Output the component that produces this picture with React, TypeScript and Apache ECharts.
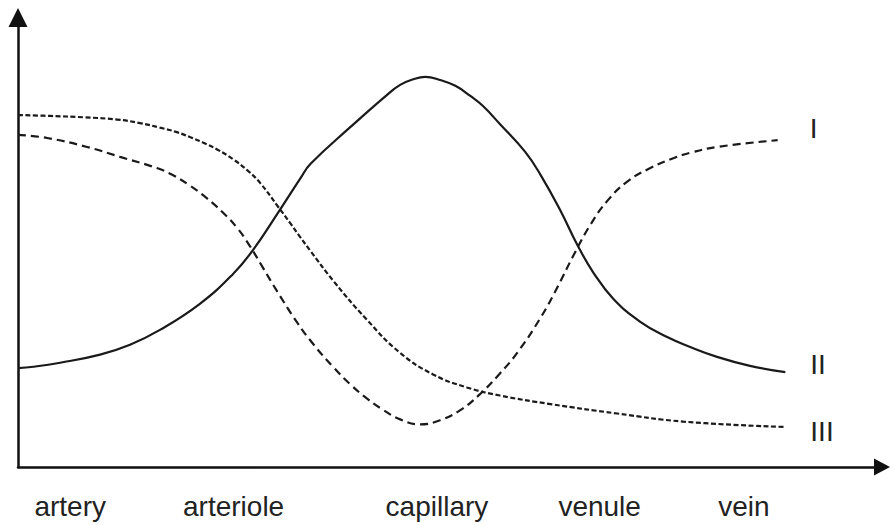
import React, { useEffect, useRef } from "react";
import * as echarts from "echarts";

// Vessel categories and where their labels sit along the x scale (0..100 = start..end of curves)
const categories = ["artery", "arteriole", "capillary", "venule", "vein"];
const categoryPositions = [6.8, 28.1, 54.6, 75.8, 94.6];

// Curve I (long dashes)
const seriesI: [number, number][] = [
  [0, 73.9], [3.8, 73.2], [9.0, 71.2], [13.3, 69.0], [18.1, 66.5], [20.1, 65.0],
  [22.4, 62.6], [24.6, 59.8], [26.7, 56.6], [28.6, 53.1], [30.2, 49.2], [31.9, 44.4],
  [33.8, 39.0], [36.4, 32.1], [38.5, 27.3], [41.1, 22.2], [43.3, 18.4], [45.5, 15.2],
  [47.6, 12.7], [49.8, 10.6], [52.4, 9.5], [55.0, 10.4], [57.6, 12.6], [60.2, 16.2],
  [62.8, 20.8], [65.1, 25.5], [68.1, 33.2], [70.3, 40.0], [72.4, 47.1], [74.6, 53.9],
  [76.8, 59.2], [79.4, 63.5], [82.4, 66.5], [85.4, 68.7], [87.6, 69.9], [91.1, 71.2],
  [99.0, 72.7],
];

// Curve II (solid)
const seriesII: [number, number][] = [
  [0, 22.0], [2.0, 22.3], [5.5, 23.2], [10.7, 25.0], [14.6, 27.2], [18.5, 30.5],
  [23.7, 36.3], [28.0, 42.9], [30.6, 48.2], [33.9, 56.6], [36.8, 64.2], [38.1, 67.4],
  [43.3, 75.6], [48.1, 82.8], [49.8, 85.0], [51.4, 86.2], [53.1, 86.8], [55.0, 86.1],
  [57.0, 84.8], [58.9, 82.6], [60.6, 80.3], [62.8, 76.3], [66.1, 70.1], [68.1, 65.0],
  [70.7, 57.0], [72.9, 49.4], [75.0, 43.2], [77.6, 37.4], [81.1, 32.3], [84.6, 28.9],
  [87.6, 26.7], [91.1, 24.5], [95.4, 22.5], [100, 21.1],
];

// Curve III (short dashes)
const seriesIII: [number, number][] = [
  [0, 78.3], [4.2, 78.1], [8.5, 77.8], [12.9, 77.3], [15.9, 76.5], [18.5, 75.5],
  [20.7, 74.5], [22.4, 73.4], [24.1, 72.2], [25.9, 70.7], [28.0, 68.5], [29.9, 66.0],
  [31.6, 63.1], [33.9, 57.9], [35.5, 54.2], [36.8, 51.1], [38.1, 48.1], [41.1, 41.4],
  [45.5, 32.7], [49.8, 25.4], [54.1, 20.6], [58.5, 17.7], [62.8, 15.9], [69.4, 14.0],
  [78.1, 11.9], [86.7, 10.1], [100, 8.9],
];

const seriesNames = ["I", "II", "III"];

const FONT = "'Liberation Sans', Arial, Helvetica, sans-serif";
const INK = "#1a1a1a";

export default function App() {
  const ref = useRef<HTMLDivElement>(null);

  useEffect(() => {
    if (!ref.current) return;
    const chart = echarts.init(ref.current, null, { renderer: "svg" });

    const endLabel = (dist: number, dy: number) => ({
      show: true,
      formatter: "{a}",
      distance: dist,
      offset: [0, dy],
      color: "#222",
      fontSize: 28,
      fontFamily: FONT,
    });

    chart.setOption({
      animation: false,
      backgroundColor: "#ffffff",
      grid: { left: 18, right: 8, top: 17.5, bottom: 58, containLabel: false },
      xAxis: {
        type: "value",
        min: 0,
        max: 112.6,
        splitLine: { show: false },
        axisTick: { show: false },
        axisLine: {
          show: true,
          symbol: ["none", "triangle"],
          symbolSize: [17, 16],
          lineStyle: { color: "#111", width: 2.5 },
        },
        axisLabel: {
          customValues: categoryPositions,
          formatter: (v: number) => {
            const i = categoryPositions.findIndex((p) => Math.abs(p - v) < 1e-6);
            return i >= 0 ? categories[i] : "";
          },
          color: "#222",
          fontSize: 28,
          fontFamily: FONT,
          margin: 25,
        },
      },
      yAxis: {
        type: "value",
        min: 0,
        max: 100,
        splitLine: { show: false },
        axisTick: { show: false },
        axisLabel: { show: false },
        axisLine: {
          show: true,
          symbol: ["none", "triangle"],
          symbolSize: [19, 19],
          lineStyle: { color: "#111", width: 2.5 },
        },
      },
      series: [
        {
          name: seriesNames[0],
          type: "line",
          data: seriesI,
          smooth: 0.45,
          showSymbol: false,
          lineStyle: { color: INK, width: 2.2, type: [8, 5] },
          endLabel: endLabel(32, -12),
        },
        {
          name: seriesNames[1],
          type: "line",
          data: seriesII,
          smooth: 0.45,
          showSymbol: false,
          lineStyle: { color: INK, width: 2.2, type: "solid" },
          endLabel: endLabel(25, -8),
        },
        {
          name: seriesNames[2],
          type: "line",
          data: seriesIII,
          smooth: 0.45,
          showSymbol: false,
          lineStyle: { color: INK, width: 2.2, type: [5, 2.5] },
          endLabel: endLabel(25, 5),
        },
      ],
    });

    return () => chart.dispose();
  }, []);

  return (
    <div
      ref={ref}
      style={{ position: "absolute", left: 0, top: 0, width: 890, height: 525 }}
    />
  );
}
